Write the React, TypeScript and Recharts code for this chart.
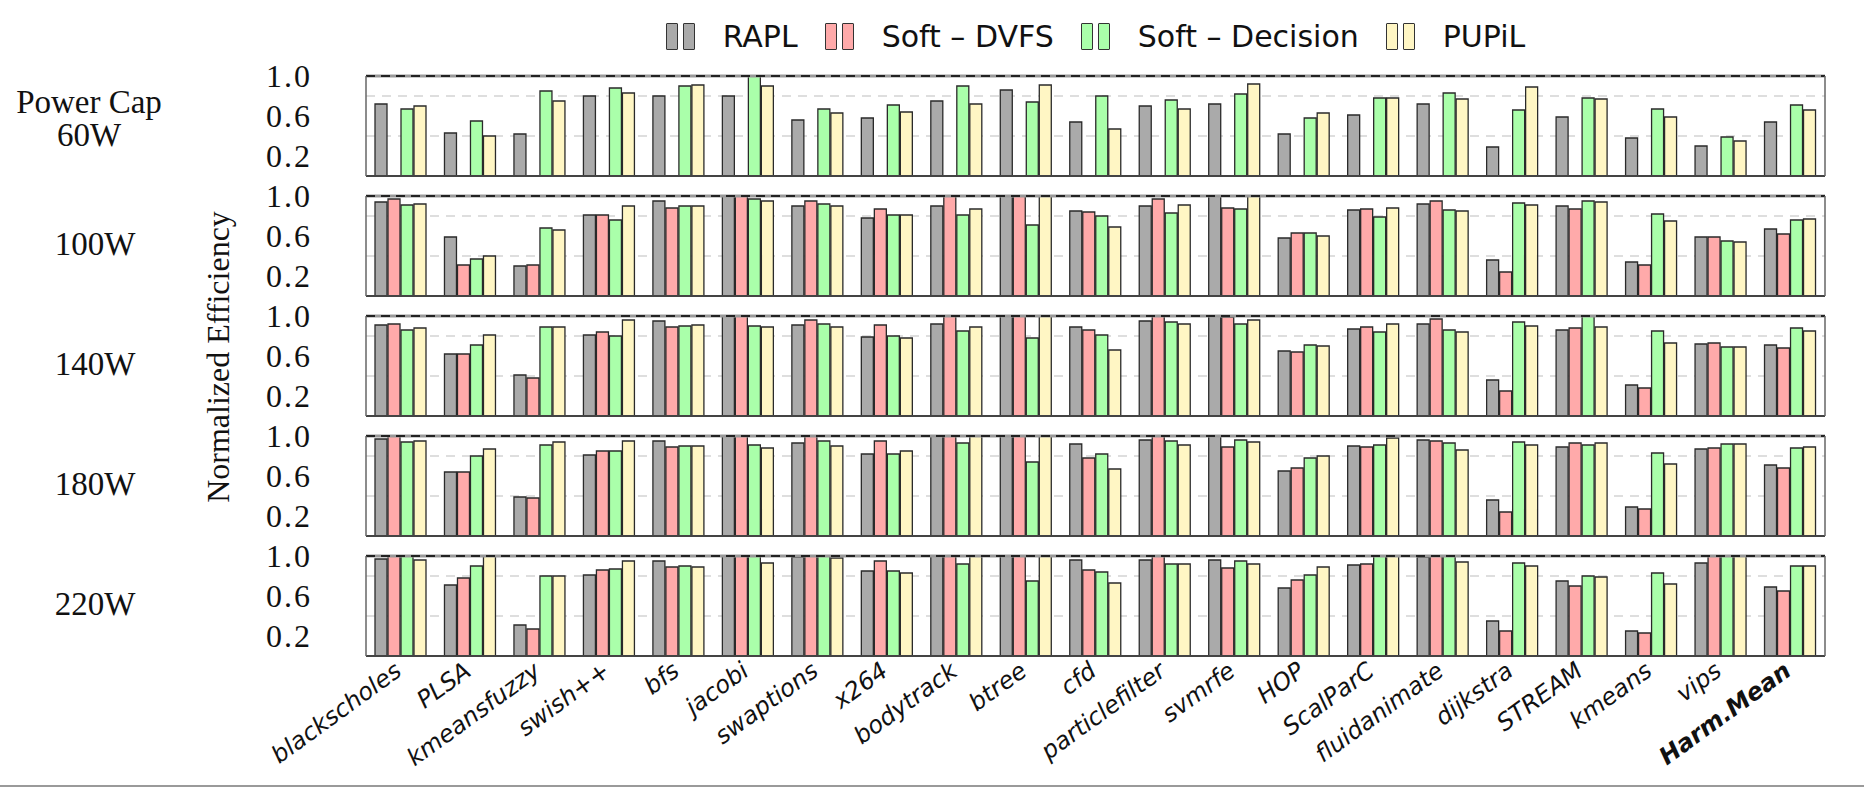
import { Bar, BarChart, CartesianGrid, ReferenceLine, XAxis, YAxis } from "recharts";

const categories = [
  "blackscholes", "PLSA", "kmeansfuzzy", "swish++", "bfs", "jacobi", "swaptions", "x264", "bodytrack", "btree",
  "cfd", "particlefilter", "svmrfe", "HOP", "ScalParC", "fluidanimate", "dijkstra", "STREAM", "kmeans", "vips", "Harm.Mean",
];

const capLabels = ["60W", "100W", "140W", "180W", "220W"];
const yTicks = [0.2, 0.6, 1.0];
const gridValues = [0.2, 0.4, 0.6, 0.8];

// normalized efficiency, one array per series per power cap (values > 1 are clipped at the frame)
const rapl60 = [0.72, 0.43, 0.42, 0.8, 0.8, 0.8, 0.56, 0.58, 0.75, 0.86, 0.54, 0.7, 0.72, 0.42, 0.61, 0.72, 0.29, 0.59, 0.38, 0.3, 0.54];
const dvfs60 = [0, 0, 0, 0, 0, 0, 0, 0, 0, 0, 0, 0, 0, 0, 0, 0, 0, 0, 0, 0, 0];
const decision60 = [0.67, 0.55, 0.85, 0.88, 0.9, 1.02, 0.67, 0.71, 0.9, 0.74, 0.8, 0.76, 0.82, 0.58, 0.78, 0.83, 0.66, 0.78, 0.67, 0.39, 0.71];
const pupil60 = [0.7, 0.4, 0.75, 0.83, 0.91, 0.9, 0.63, 0.64, 0.72, 0.91, 0.47, 0.67, 0.92, 0.63, 0.78, 0.77, 0.89, 0.77, 0.59, 0.35, 0.66];

const rapl100 = [0.94, 0.59, 0.3, 0.81, 0.95, 1.05, 0.9, 0.78, 0.9, 1.05, 0.85, 0.9, 1.05, 0.58, 0.86, 0.92, 0.36, 0.9, 0.34, 0.59, 0.67];
const dvfs100 = [0.97, 0.31, 0.31, 0.81, 0.88, 1.05, 0.95, 0.87, 1.0, 1.0, 0.84, 0.97, 0.88, 0.63, 0.87, 0.95, 0.24, 0.87, 0.31, 0.59, 0.62];
const decision100 = [0.91, 0.37, 0.68, 0.76, 0.9, 0.97, 0.92, 0.81, 0.81, 0.71, 0.8, 0.83, 0.87, 0.63, 0.79, 0.86, 0.93, 0.95, 0.82, 0.55, 0.76];
const pupil100 = [0.92, 0.4, 0.66, 0.9, 0.9, 0.95, 0.9, 0.81, 0.87, 1.05, 0.69, 0.91, 1.05, 0.6, 0.88, 0.85, 0.91, 0.94, 0.75, 0.54, 0.77];

const rapl140 = [0.91, 0.62, 0.41, 0.81, 0.95, 1.05, 0.91, 0.79, 0.92, 1.05, 0.89, 0.95, 1.05, 0.65, 0.87, 0.92, 0.36, 0.86, 0.31, 0.72, 0.71];
const dvfs140 = [0.92, 0.62, 0.38, 0.84, 0.89, 1.05, 0.96, 0.91, 1.05, 1.05, 0.86, 1.05, 0.99, 0.64, 0.89, 0.97, 0.25, 0.88, 0.28, 0.73, 0.68];
const decision140 = [0.86, 0.71, 0.89, 0.8, 0.9, 0.9, 0.92, 0.8, 0.85, 0.78, 0.81, 0.94, 0.92, 0.71, 0.84, 0.86, 0.94, 1.05, 0.85, 0.69, 0.88];
const pupil140 = [0.88, 0.81, 0.89, 0.96, 0.91, 0.89, 0.89, 0.78, 0.89, 1.05, 0.66, 0.92, 0.96, 0.7, 0.92, 0.84, 0.9, 0.89, 0.73, 0.69, 0.85];

const rapl180 = [0.97, 0.64, 0.39, 0.81, 0.95, 1.05, 0.93, 0.82, 1.05, 1.05, 0.92, 0.96, 1.05, 0.65, 0.9, 0.96, 0.36, 0.89, 0.29, 0.87, 0.71];
const dvfs180 = [1.05, 0.64, 0.38, 0.85, 0.89, 1.05, 1.05, 0.95, 1.05, 1.05, 0.78, 1.05, 0.89, 0.68, 0.89, 0.95, 0.24, 0.93, 0.27, 0.88, 0.68];
const decision180 = [0.94, 0.8, 0.91, 0.85, 0.9, 0.91, 0.95, 0.82, 0.93, 0.74, 0.82, 0.95, 0.96, 0.78, 0.91, 0.93, 0.94, 0.91, 0.83, 0.92, 0.88];
const pupil180 = [0.95, 0.87, 0.94, 0.95, 0.9, 0.88, 0.9, 0.85, 1.05, 1.05, 0.67, 0.91, 0.94, 0.8, 0.98, 0.86, 0.91, 0.93, 0.72, 0.92, 0.89];

const rapl220 = [0.97, 0.71, 0.31, 0.81, 0.95, 1.05, 0.99, 0.85, 1.05, 1.05, 0.96, 0.96, 0.96, 0.68, 0.91, 0.99, 0.35, 0.75, 0.25, 0.93, 0.69];
const dvfs220 = [1.05, 0.78, 0.27, 0.86, 0.89, 1.05, 1.05, 0.95, 1.05, 1.0, 0.86, 1.05, 0.88, 0.76, 0.92, 1.05, 0.25, 0.7, 0.23, 1.05, 0.65];
const decision220 = [1.05, 0.9, 0.8, 0.87, 0.9, 1.05, 1.05, 0.85, 0.92, 0.75, 0.84, 0.92, 0.95, 0.81, 1.05, 1.05, 0.93, 0.8, 0.83, 1.05, 0.9];
const pupil220 = [0.96, 1.05, 0.8, 0.95, 0.89, 0.93, 0.98, 0.83, 1.05, 1.05, 0.73, 0.92, 0.92, 0.89, 1.05, 0.94, 0.9, 0.79, 0.72, 1.05, 0.9];

const panels = [
  [rapl60, dvfs60, decision60, pupil60],
  [rapl100, dvfs100, decision100, pupil100],
  [rapl140, dvfs140, decision140, pupil140],
  [rapl180, dvfs180, decision180, pupil180],
  [rapl220, dvfs220, decision220, pupil220],
];

const SERIES = [
  { key: "rapl", name: "RAPL", fill: "#aaaaaa" },
  { key: "dvfs", name: "Soft – DVFS", fill: "#ffaaaa" },
  { key: "decision", name: "Soft – Decision", fill: "#aaffaa" },
  { key: "pupil", name: "PUPiL", fill: "#fff6c4" },
];

const W = 1864;
const PLOT_LEFT = 366;
const PLOT_RIGHT = 1825;
const PANEL_TOPS = [76, 196, 316, 436, 556];
const PLOT_H = 100;
const TOP_PAD = 22;
const SERIF = "'Liberation Serif', 'DejaVu Serif', serif";
const SANS = "'DejaVu Sans', sans-serif";

function YTick({ y, payload }: any) {
  return (
    <text x={312} y={y} textAnchor="end" dominantBaseline="central" fontFamily={SERIF} fontSize={32} letterSpacing={2} fill="#111">
      {Number(payload.value).toFixed(1)}
    </text>
  );
}

function XTick({ x, y, payload }: any) {
  const bold = payload.value === "Harm.Mean";
  const ax = x - 8;
  const ay = y - 4;
  return (
    <text
      x={ax}
      y={ay}
      textAnchor="end"
      dominantBaseline="hanging"
      transform={`rotate(-36, ${ax}, ${ay})`}
      fontFamily={SANS}
      fontStyle="italic"
      fontWeight={bold ? 700 : 400}
      fontSize={24}
      fill="#111"
    >
      {payload.value}
    </text>
  );
}

function Panel({ index }: { index: number }) {
  const last = index === panels.length - 1;
  const data = categories.map((c, i) => ({
    name: c,
    rapl: panels[index][0][i],
    dvfs: panels[index][1][i],
    decision: panels[index][2][i],
    pupil: panels[index][3][i],
  }));
  const xH = last ? 130 : 1;
  const height = TOP_PAD + PLOT_H + xH + (last ? 0 : 9);
  return (
    <div style={{ position: "absolute", left: 0, top: PANEL_TOPS[index] - TOP_PAD }}>
      <BarChart
        width={W}
        height={height}
        data={data}
        margin={{ top: TOP_PAD, right: W - PLOT_RIGHT - 1, left: PLOT_LEFT - 60, bottom: last ? 0 : 9 }}
        barCategoryGap={9}
        barGap={1}
      >
        <CartesianGrid yAxisId="l" vertical={false} horizontalValues={gridValues} stroke="#d4d4d4" strokeWidth={1.5} strokeDasharray="9 7" />
        <XAxis
          dataKey="name"
          interval={0}
          height={xH}
          tickLine={false}
          axisLine={{ stroke: "#444", strokeWidth: 2 }}
          tick={last ? <XTick /> : false}
        />
        <YAxis
          yAxisId="l"
          width={60}
          domain={[0, 1]}
          allowDataOverflow
          ticks={yTicks}
          tickLine={false}
          axisLine={{ stroke: "#666", strokeWidth: 1.5 }}
          tick={<YTick />}
        />
        <YAxis yAxisId="r" orientation="right" width={1} domain={[0, 1]} tick={false} tickLine={false} axisLine={{ stroke: "#666", strokeWidth: 1.5 }} />
        {SERIES.map((s) => (
          <Bar key={s.key} yAxisId="l" dataKey={s.key} fill={s.fill} stroke="#2a2a2a" strokeWidth={1.3} isAnimationActive={false} />
        ))}
        <ReferenceLine yAxisId="l" y={1} stroke="#999" strokeWidth={3} />
        <ReferenceLine yAxisId="l" y={1} stroke="#222" strokeWidth={2} strokeDasharray="9 6" />
      </BarChart>
    </div>
  );
}

function LegendIcon({ fill }: { fill: string }) {
  const bar = { width: 10, height: 25, background: fill, border: "1.3px solid #333", borderRadius: 1 };
  return (
    <span style={{ display: "inline-flex", gap: 5, marginRight: 28 }}>
      <span style={bar} />
      <span style={bar} />
    </span>
  );
}

export default function App() {
  return (
    <div style={{ position: "absolute", left: 0, top: 0, width: W, height: 791, background: "#fff", overflow: "hidden" }}>
      <div
        style={{
          position: "absolute",
          left: PLOT_LEFT,
          width: PLOT_RIGHT - PLOT_LEFT,
          top: 18,
          height: 36,
          display: "flex",
          justifyContent: "center",
          alignItems: "center",
          fontFamily: SANS,
          fontSize: 30,
          color: "#111",
        }}
      >
        {SERIES.map((s, i) => (
          <span key={s.key} style={{ display: "inline-flex", alignItems: "center", marginRight: i < SERIES.length - 1 ? 27 : 0 }}>
            <LegendIcon fill={s.fill} />
            {s.name}
          </span>
        ))}
      </div>

      {panels.map((_, i) => (
        <Panel key={i} index={i} />
      ))}

      <div style={{ position: "absolute", left: 0, width: 178, top: 86, textAlign: "center", fontFamily: SERIF, fontSize: 33, lineHeight: "33px", color: "#111" }}>
        Power Cap
        <br />
        {capLabels[0]}
      </div>
      {capLabels.slice(1).map((c, i) => (
        <div
          key={c}
          style={{ position: "absolute", left: 6, width: 178, top: PANEL_TOPS[i + 1] + 32, textAlign: "center", fontFamily: SERIF, fontSize: 33, lineHeight: "33px", color: "#111" }}
        >
          {c}
        </div>
      ))}

      <div
        style={{
          position: "absolute",
          left: 218 - 200,
          top: 357 - 18,
          width: 400,
          height: 36,
          lineHeight: "36px",
          textAlign: "center",
          transform: "rotate(-90deg)",
          fontFamily: SERIF,
          fontSize: 32,
          color: "#111",
        }}
      >
        Normalized Efficiency
      </div>

      <div style={{ position: "absolute", left: 0, top: 785, width: W, height: 2, background: "#9a9a9a" }} />
    </div>
  );
}
